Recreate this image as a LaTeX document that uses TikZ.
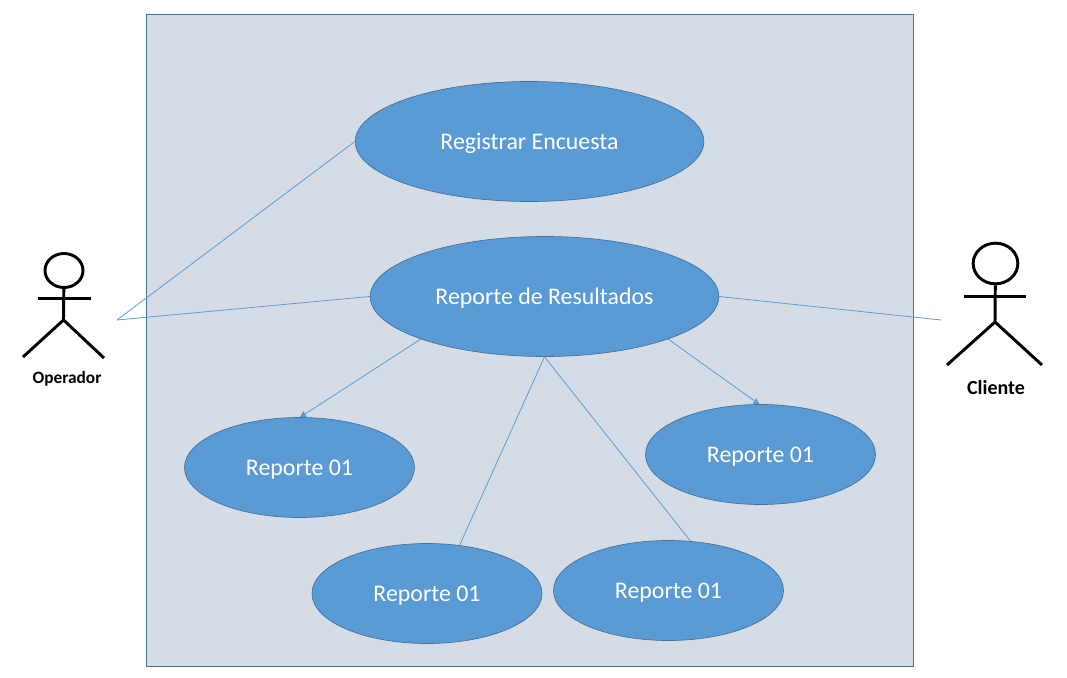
\documentclass[tikz,border=0pt]{standalone}
\usepackage{fontspec}
\setmainfont{Carlito}
\usetikzlibrary{arrows, positioning, shapes.geometric}

\definecolor{caseblue}{HTML}{5B9BD5}
\definecolor{caseedge}{HTML}{41719C}
\definecolor{framefill}{HTML}{D6DCE5}

\tikzset{
	usecase/.style={draw=caseedge, fill=caseblue, ellipse, inner sep=0pt, line width=0.5pt, text=white, text height=14pt, text depth=2pt, font=\fontsize{17.9}{20}\selectfont},
	bigcase/.style={usecase, minimum width=261.5pt, minimum height=90pt},
	smallcase/.style={usecase, minimum width=172.5pt, minimum height=75pt},
	link/.style={draw=caseblue, line width=0.6pt},
	tiphead/.style={fill=caseblue, regular polygon, regular polygon sides=3, minimum size=6pt, inner sep=0pt},
	stick/.style={draw=black, line width=2.2pt},
	head/.style={draw=black, ellipse, line width=2.2pt, inner sep=0pt},
	actorname/.style={text=black}
}

\begin{document}
\begin{tikzpicture}[x=0.75pt, y=-0.75pt]

\useasboundingbox (0,0) rectangle (1067,678);

\node [draw=caseedge, fill=framefill, line width=0.6pt, minimum width=575.25pt, minimum height=489pt, inner sep=0pt] (frame) at (530,340.5) {};

\node [bigcase] (reg) at (529.5,141.5) {Registrar Encuesta};
\node [bigcase] (res) at (544.5,296.5) {Reporte de Resultados};
\node [smallcase] (repl) at (299.5,467.5) {Reporte 01};
\node [smallcase] (repr) at (760.5,454.5) {Reporte 01};
\node [smallcase] (repa) at (427,593.5) {Reporte 01};
\node [smallcase] (repb) at (668.5,590.5) {Reporte 01};

\node [tiphead] (tipl) at (303.5,415) {};
\node [tiphead] (tipr) at (756,402) {};

% Operador
\node [head, minimum width=28.5pt, minimum height=25.5pt] (ophead) at (64,270.5) {};
\coordinate (ophip) at (63.5,320);
\coordinate (oparml) at (38,298.5);
\coordinate (oparmr) at (91,298.5);
\coordinate (oplegl) at (23,357);
\coordinate (oplegr) at (104,358);
\coordinate (opend) at (117,320);
\node [actorname, font=\fontsize{13}{15}\selectfont\bfseries] (opname) at (67,379) {Operador};

\path [stick] (ophead) -- (ophip);
\path [stick] (oparml) -- (oparmr);
\path [stick] (oplegl) -- (ophip) -- (oplegr);

% Cliente
\node [head, minimum width=33.5pt, minimum height=30.5pt] (clhead) at (995.5,263.5) {};
\coordinate (clhip) at (995,322);
\coordinate (clarml) at (964,296.5);
\coordinate (clarmr) at (1026,296.5);
\coordinate (cllegl) at (947,365);
\coordinate (cllegr) at (1042,365);
\coordinate (clend) at (941,320);
\node [actorname, font=\fontsize{15}{17}\selectfont\bfseries] (clname) at (996,388) {Cliente};

\path [stick] (clhead) -- (clhip);
\path [stick] (clarml) -- (clarmr);
\path [stick] (cllegl) -- (clhip) -- (cllegr);

\path [link] (opend) -- (reg.west);
\path [link] (opend) -- (res.west);
\path [link] (res.east) -- (clend);
\path [link] (res.199) -- (tipl);
\path [link] (res.341) -- (tipr);
\path [link] (res.south) -- (repa.56);
\path [link] (res.south) -- (repb.66);

\end{tikzpicture}
\end{document}
